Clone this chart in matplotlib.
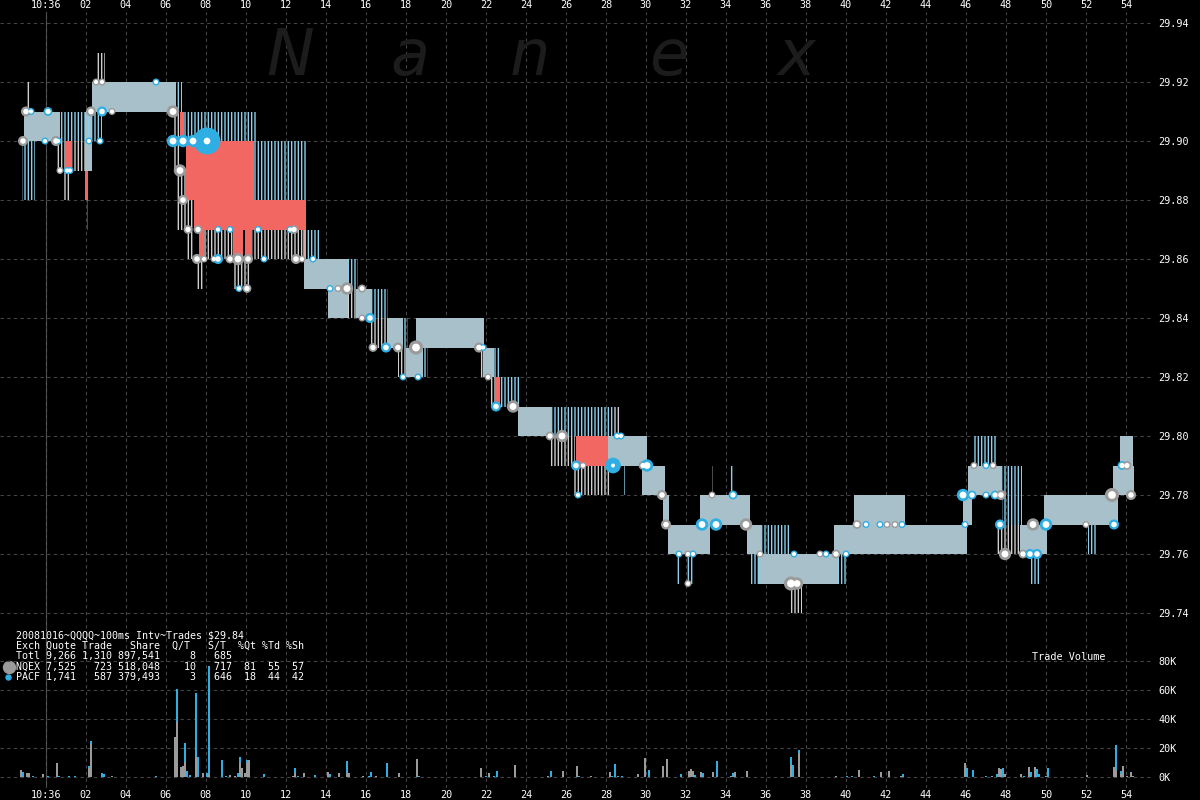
import matplotlib
matplotlib.use("Agg")
import matplotlib.pyplot as plt
import numpy as np

# ---- quote bands: (start sec, end sec, low, high) ----
dense_bands = [
    (-1.1, 0.7, 29.90, 29.91), (1.95, 2.3, 29.89, 29.91), (2.3, 6.5, 29.91, 29.92),
    (12.9, 15.1, 29.85, 29.86), (14.1, 15.1, 29.84, 29.85), (15.5, 16.3, 29.84, 29.85),
    (17.05, 17.85, 29.83, 29.84), (18.0, 18.85, 29.82, 29.83), (18.5, 21.9, 29.83, 29.84),
    (21.85, 22.4, 29.82, 29.83), (23.6, 25.3, 29.80, 29.81), (28.1, 30.05, 29.79, 29.80),
    (29.8, 30.95, 29.78, 29.79), (30.85, 31.15, 29.77, 29.78), (31.1, 33.2, 29.76, 29.77),
    (32.7, 35.2, 29.77, 29.78), (35.05, 35.8, 29.76, 29.77), (35.6, 39.6, 29.75, 29.76),
    (39.4, 46.05, 29.76, 29.77), (40.4, 42.95, 29.77, 29.78), (45.85, 46.3, 29.77, 29.78),
    (46.1, 47.8, 29.78, 29.79), (48.7, 50.05, 29.76, 29.77), (49.9, 53.6, 29.77, 29.78),
    (53.35, 54.4, 29.78, 29.79), (53.7, 54.35, 29.79, 29.80),
]
cyan_bands = [
    (-1.2, -0.55, 29.88, 29.90), (0.7, 2.05, 29.90, 29.91), (2.05, 2.1, 29.87, 29.88),
    (6.5, 6.8, 29.91, 29.92), (2.1, 2.8, 29.90, 29.91), (6.9, 10.5, 29.90, 29.91),
    (10.4, 13.0, 29.88, 29.90), (12.95, 13.7, 29.86, 29.87), (15.1, 15.6, 29.85, 29.86),
    (16.3, 17.1, 29.84, 29.85), (17.85, 18.1, 29.83, 29.84), (18.85, 19.1, 29.82, 29.83),
    (22.4, 22.7, 29.82, 29.83), (22.7, 23.7, 29.81, 29.82), (25.3, 28.4, 29.80, 29.81),
    (28.85, 28.95, 29.78, 29.79), (31.55, 31.65, 29.75, 29.76), (32.0, 32.35, 29.75, 29.76),
    (34.2, 34.4, 29.78, 29.79), (35.8, 37.2, 29.76, 29.77), (35.25, 35.7, 29.75, 29.76),
    (39.6, 40.0, 29.75, 29.76), (46.35, 47.5, 29.79, 29.80), (47.8, 48.8, 29.77, 29.79),
    (49.25, 49.7, 29.75, 29.76), (52.1, 52.5, 29.76, 29.77),
]
gray_bands = [
    (-1.0, -0.75, 29.91, 29.92), (0.5, 1.0, 29.89, 29.90), (1.3, 1.95, 29.89, 29.90),
    (0.9, 1.25, 29.88, 29.89), (2.5, 2.95, 29.92, 29.93), (6.35, 6.7, 29.89, 29.91),
    (6.5, 7.05, 29.87, 29.89), (7.05, 7.4, 29.86, 29.88), (7.9, 9.35, 29.86, 29.87),
    (10.3, 12.95, 29.86, 29.87), (7.55, 7.85, 29.85, 29.86), (9.4, 10.25, 29.85, 29.86),
    (15.1, 15.5, 29.84, 29.85), (16.2, 17.05, 29.83, 29.84), (17.6, 18.0, 29.82, 29.83),
    (21.7, 21.85, 29.82, 29.83), (22.2, 22.45, 29.81, 29.82), (28.4, 28.75, 29.80, 29.81),
    (25.2, 26.45, 29.79, 29.80), (26.35, 28.25, 29.78, 29.79), (33.28, 33.35, 29.78, 29.79),
    (37.2, 37.8, 29.74, 29.75), (47.55, 48.7, 29.76, 29.77),
]
red_bands = [
    (1.0, 1.3, 29.89, 29.90), (1.95, 2.1, 29.88, 29.89), (6.7, 6.9, 29.90, 29.91),
    (7.0, 10.4, 29.88, 29.90), (7.4, 13.0, 29.87, 29.88), (7.65, 7.9, 29.86, 29.87),
    (9.35, 9.85, 29.86, 29.87), (9.95, 10.3, 29.86, 29.87), (12.85, 13.0, 29.86, 29.87),
    (22.45, 22.7, 29.81, 29.82), (26.5, 28.1, 29.79, 29.80),
]

# ---- trades: time, price, exchange, shares ----
trade_t = [-1.0, -0.75, 0.1, -1.15, -0.05, 0.5, 0.6, 0.7, 1.05, 1.2, 2.25, 2.8, 3.3, 2.15, 2.7,
           2.5, 2.8, 5.5,
           6.35, 6.35, 6.85, 7.35, 8.05, 6.7, 6.85, 7.1, 7.6, 8.6, 9.2, 10.6, 12.2, 12.4,
           7.55, 7.9, 8.4, 8.6, 9.2, 9.6, 10.1, 10.9, 12.5, 12.8, 13.35, 9.65, 10.05,
           14.2, 14.6, 15.05, 15.8, 15.8, 16.2, 16.35, 17.0, 17.6, 18.5, 17.85, 18.6,
           21.65, 21.85, 22.1, 22.5, 23.35,
           25.2, 25.8, 28.55, 28.75, 26.5, 26.85, 28.35, 29.85, 30.05, 26.6, 30.8, 31.0,
           33.3, 34.35, 32.8, 33.5, 35.0, 31.65, 32.1, 32.35, 32.1, 35.7, 37.25, 37.55,
           37.4, 38.7, 39.0, 39.5, 40.0, 40.55, 41.0, 41.7, 42.05, 42.45, 42.8, 45.95,
           45.85, 46.3, 47.0, 47.45, 47.75, 46.4, 47.0, 47.35, 47.7, 49.35, 50.0, 52.0,
           53.4, 47.95, 48.85, 49.2, 49.55, 53.3, 54.25, 53.8, 54.05]
trade_px = [29.91, 29.91, 29.91, 29.90, 29.90, 29.90, 29.90, 29.89, 29.89, 29.89, 29.91, 29.91,
            29.91, 29.90, 29.90, 29.92, 29.92, 29.92,
            29.91, 29.90, 29.90, 29.90, 29.90, 29.89, 29.88, 29.87, 29.87, 29.87, 29.87, 29.87,
            29.87, 29.87,
            29.86, 29.86, 29.86, 29.86, 29.86, 29.86, 29.86, 29.86, 29.86, 29.86, 29.86, 29.85,
            29.85,
            29.85, 29.85, 29.85, 29.85, 29.84, 29.84, 29.83, 29.83, 29.83, 29.83, 29.82, 29.82,
            29.83, 29.83, 29.82, 29.81, 29.81,
            29.80, 29.80, 29.80, 29.80, 29.79, 29.79, 29.79, 29.79, 29.79, 29.78, 29.78, 29.77,
            29.78, 29.78, 29.77, 29.77, 29.77, 29.76, 29.76, 29.76, 29.75, 29.76, 29.75, 29.75,
            29.76, 29.76, 29.76, 29.76, 29.76, 29.77, 29.77, 29.77, 29.77, 29.77, 29.77, 29.77,
            29.78, 29.78, 29.78, 29.78, 29.78, 29.79, 29.79, 29.79, 29.77, 29.77, 29.77, 29.77,
            29.77, 29.76, 29.76, 29.76, 29.76, 29.78, 29.78, 29.79, 29.79]
trade_ex = list("NPPNPNPNPPNPNPPNNP"
                "NPPPPNNNNPPPPN"
                "NNNPNNNPNNPPN"
                "PNNNNPNPNNPP"
                "NPNPN"
                "NNPPPNPNPPNNNPPPNPNPNNNN"
                "PNPNPNPPNNPP"
                "PPPPNNPNPNPN"
                "PNNPPNNPN")
trade_sh = [500, 100, 300, 500, 100, 500, 100, 100, 100, 100, 500, 500, 100, 100, 100,
            100, 100, 100,
            1000, 1000, 1000, 1000, 8000, 1000, 500, 300, 300, 100, 100, 100, 100, 300,
            500, 100, 100, 500, 300, 1000, 500, 100, 500, 100, 100, 100, 300,
            100, 100, 1000, 200, 100, 500, 300, 500, 500, 1500, 100, 100,
            500, 100, 100, 500, 1000,
            300, 1000, 100, 100, 500, 100, 2000, 300, 1000, 100, 500, 500,
            100, 300, 1000, 1000, 1000, 100, 100, 100, 100, 100, 1500, 1000,
            100, 100, 100, 300, 100, 300, 100, 100, 100, 100, 100, 100,
            1000, 300, 100, 300, 500, 100, 100, 100, 500, 1000, 1000, 100,
            500, 1000, 300, 500, 500, 1500, 500, 300, 300]

# ---- trade volume per 100ms interval ----
vol_t = [-1.25, -1.15, -0.95, -0.85, -0.65, -0.15, 0.1, 0.55, 0.65, 1.15, 1.45, 2.15, 2.25, 2.8,
         2.9, 3.3, 5.5, 6.45, 6.55, 6.75, 6.85, 6.95, 7.05, 7.2, 7.5, 7.6, 7.85, 8.05, 8.15,
         8.8, 9.0, 9.2, 9.45, 9.6, 9.7, 9.8, 9.95, 10.05, 10.15, 10.9, 12.35, 12.45, 12.6,
         12.9, 13.45, 14.1, 14.2, 14.65, 15.05, 15.15, 15.85, 16.15, 16.25, 16.5, 17.05,
         17.65, 18.25, 18.55, 18.65, 21.75, 22.0, 22.15, 22.4, 22.55, 23.45, 25.1, 25.25,
         25.85, 26.55, 26.65, 27.25, 28.2, 28.3, 28.45, 28.6, 28.8, 29.6, 29.95, 30.15,
         30.85, 31.05, 31.75, 32.15, 32.25, 32.35, 32.45, 32.75, 32.85, 33.35, 33.55, 34.25,
         34.35, 34.45, 35.05, 35.75, 37.25, 37.35, 37.65, 38.8, 39.2, 39.5, 40.05, 40.3,
         40.65, 41.4, 41.75, 42.15, 42.75, 42.85, 45.95, 46.05, 46.35, 47.0, 47.3, 47.55,
         47.65, 47.75, 47.85, 47.95, 48.75, 48.9, 49.15, 49.25, 49.45, 49.55, 49.65, 50.0,
         50.1, 52.05, 53.4, 53.5, 53.75, 53.85, 54.05, 54.25, 54.35]
vol_nqex = [4800, 0, 3000, 3000, 0, 2100, 0, 9400, 0, 0, 0, 6000, 22800, 0,
            0, 500, 0, 27800, 38100, 7100, 7800, 10600, 0, 0, 14000, 0, 3000, 0, 2000,
            0, 0, 1200, 800, 0, 9400, 6000, 3000, 9400, 11700, 0, 700, 2500, 0,
            3000, 0, 3400, 0, 3000, 3000, 3000, 1000, 0, 0, 800, 0,
            3000, 0, 12600, 0, 6400, 0, 3000, 0, 0, 8100, 500, 0,
            4400, 7700, 0, 500, 3600, 0, 0, 0, 0, 2300, 13300, 0,
            7700, 12600, 0, 4400, 5500, 4400, 0, 3600, 0, 3600, 0, 1000,
            0, 3600, 4400, 300, 8200, 0, 16500, 300, 0, 400, 0, 0,
            4800, 0, 3600, 4400, 500, 0, 9900, 0, 0, 0, 1000, 0,
            6400, 5800, 0, 2300, 2300, 0, 7000, 0, 7000, 0, 0, 500,
            0, 1600, 7000, 4800, 2000, 7700, 1000, 3600, 500]
vol_pacf = [0, 3600, 0, 0, 900, 0, 900, 0, 700, 500, 500, 1800, 2000, 3000,
            2000, 0, 500, 0, 22600, 0, 0, 12600, 4400, 1500, 43700, 14000, 0, 3000, 74800,
            11700, 1000, 0, 0, 3000, 4600, 0, 0, 2300, 0, 1800, 0, 3500, 1000,
            0, 1600, 0, 2300, 0, 8200, 0, 0, 800, 3500, 0, 9900,
            0, 300, 0, 500, 0, 1000, 0, 500, 4400, 0, 0, 4400,
            0, 0, 500, 0, 0, 800, 8700, 500, 500, 0, 0, 4800,
            0, 0, 2300, 0, 0, 0, 1600, 0, 3000, 0, 11200, 0,
            3000, 0, 0, 0, 5800, 8200, 2300, 0, 300, 0, 400, 1000,
            0, 900, 0, 0, 0, 2000, 0, 6400, 4800, 900, 0, 2300,
            0, 0, 6400, 0, 0, 500, 0, 3500, 0, 5800, 2300, 0,
            6400, 0, 0, 17500, 2400, 0, 0, 0, 0]

price_ticks = [29.74, 29.76, 29.78, 29.80, 29.82, 29.84, 29.86, 29.88, 29.90, 29.92, 29.94]
vol_ticks = [0, 20000, 40000, 60000, 80000]
vol_labels = ["0K", "20K", "40K", "60K", "80K"]
time_ticks = list(range(0, 55, 2))
time_labels = ["10:36"] + ["%02d" % s for s in time_ticks[1:]]

stats_lines = [
    "20081016~QQQQ~100ms Intv~Trades $29.84",
    "Exch Quote Trade   Share  Q/T   S/T  %Qt %Td %Sh",
    "Totl 9,266 1,310 897,541     8   685",
    "NQEX 7,525   723 518,048    10   717  81  55  57",
    "PACF 1,741   587 379,493     3   646  18  44  42",
]

NQ_COL = "#9b9b9b"
PA_COL = "#2eaee3"
DENSE = "#a8c0ca"
RED = "#f26761"
GRID = "#444444"
MONO = "DejaVu Sans Mono"
FS = 7.3
plt.rcParams["hatch.linewidth"] = 1.0

fig = plt.figure(figsize=(12, 8), dpi=100, facecolor="black")
ax = fig.add_axes([0, 0.015, 0.96, 0.97])
ax.set_facecolor("black")
ax.set_xlim(-2.3, 55.3)
ax.set_ylim(29.68068, 29.94373)

# watermark
for letter, fx in zip("Nanex", [0.242, 0.342, 0.442, 0.557, 0.664]):
    fig.text(fx, 0.906, letter, fontsize=46, style="italic", color="#1c1c1c",
             family="DejaVu Sans", ha="center", va="baseline", zorder=0)

def draw_bands(bands, **kw):
    for t0, t1, lo, hi in bands:
        ax.bar(t0, hi - lo, width=t1 - t0, bottom=lo, align="edge", linewidth=0, zorder=2, **kw)

draw_bands(dense_bands, color=DENSE)
draw_bands(red_bands, color=RED)
draw_bands(cyan_bands, color="none", edgecolor="#8ad0ec", hatch="|||||")
draw_bands(gray_bands, color="none", edgecolor="#cfcfcf", hatch="|||||")

# trades
tt = np.array(trade_t)
tp = np.array(trade_px)
sh = np.array(trade_sh, dtype=float)
cols = [NQ_COL if e == "N" else PA_COL for e in trade_ex]
diam = 4.5 + 2.5 * np.sqrt(sh / 100.0)
ratio = np.where(sh >= 2000, 0.25, np.where(sh <= 300, 0.6, 0.55))
ax.scatter(tt, tp, s=(diam * 0.72) ** 2, c=cols, edgecolors="none", zorder=5)
ax.scatter(tt, tp, s=(diam * ratio * 0.72) ** 2, c="white", edgecolors="none", zorder=6)

# grid / ticks
ax.set_yticks(price_ticks)
ax.set_yticklabels(["%.2f" % p for p in price_ticks])
ax.yaxis.tick_right()
ax.set_xticks(time_ticks)
ax.set_xticklabels(time_labels)
ax.tick_params(axis="x", top=True, labeltop=True, bottom=True, labelbottom=True,
               length=0, pad=1.5, labelcolor="white", labelsize=FS)
ax.tick_params(axis="y", length=0, pad=4.5, labelcolor="white", labelsize=FS)
for lab in ax.get_xticklabels() + ax.get_yticklabels():
    lab.set_family(MONO)
ax.grid(True, color=GRID, linewidth=0.8, linestyle=(0, (3, 3)), zorder=1)
ax.axvline(0, color="#5a5a5a", linewidth=0.8, zorder=1)
for sp in ax.spines.values():
    sp.set_visible(False)

# volume panel
vax = fig.add_axes([0, 0.015, 0.96, 0.185], sharex=ax)
vax.patch.set_visible(False)
vax.set_ylim(-7587, 94490)
vt = np.array(vol_t)
vn = np.array(vol_nqex)
vp = np.array(vol_pacf)
vax.bar(vt, vn, width=0.12, color=NQ_COL, linewidth=0, zorder=3)
vax.bar(vt, vp, width=0.12, bottom=vn, color=PA_COL, linewidth=0, zorder=3)
vax.set_yticks(vol_ticks)
vax.set_yticklabels(vol_labels)
vax.yaxis.tick_right()
vax.tick_params(axis="y", length=0, pad=4.5, labelcolor="white", labelsize=FS)
vax.tick_params(axis="x", bottom=False, labelbottom=False)
for lab in vax.get_yticklabels():
    lab.set_family(MONO)
vax.yaxis.grid(True, color=GRID, linewidth=0.8, linestyle=(0, (3, 3)))
vax.xaxis.grid(False)
for sp in vax.spines.values():
    sp.set_visible(False)
vax.text(1032 / 1152, (788 - 657) / 148, "Trade Volume", transform=vax.transAxes, color="white",
         fontsize=FS, family=MONO, ha="left", va="center")

# stats block
for i, line in enumerate(stats_lines):
    fig.text(16.5 / 1200, 1 - (636 + 10.2 * i) / 800, line, color="white", fontsize=7.2,
             family=MONO, ha="left", va="center")
ax.scatter([9 / 1200], [1 - 666.5 / 800], s=(12 * 0.72) ** 2, c=NQ_COL, transform=fig.transFigure,
           clip_on=False, zorder=7)
ax.scatter([8 / 1200], [1 - 676.5 / 800], s=(5 * 0.72) ** 2, c=PA_COL, transform=fig.transFigure,
           clip_on=False, zorder=7)

fig.savefig("out.png", dpi=100, facecolor="black")
